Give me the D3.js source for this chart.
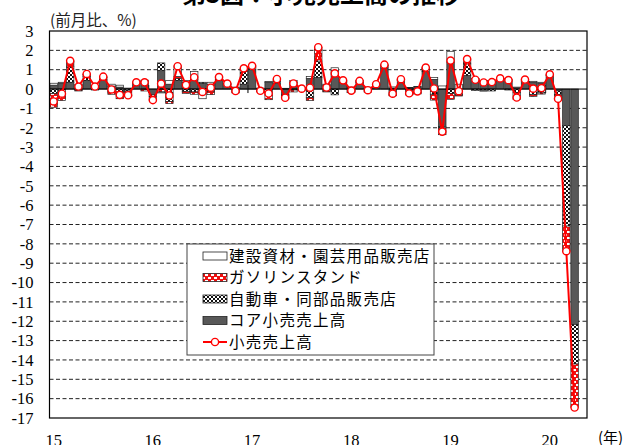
<!DOCTYPE html>
<html>
<head>
<meta charset="utf-8">
<script src="https://cdn.jsdelivr.net/npm/d3@7/dist/d3.min.js"></script>
<style>
  html, body { margin: 0; padding: 0; background: #fff; }
  svg { display: block; }
</style>
</head>
<body>
<svg id="chart" width="630" height="445"></svg>
<script>
// Monthly data, Jan 2015 – Apr 2020 (month-on-month %, and contributions)
const months = d3.range(64).map(i => `${2015 + Math.floor(i / 12)}-${String(i % 12 + 1).padStart(2, "0")}`);

const retailTotal = [
  -0.64,-0.24,1.46,0.13,0.78,0.13,0.64,-0.02,-0.30,-0.32,
  0.35,0.35,-0.57,0.28,-0.33,1.18,0.21,0.61,-0.15,0.07,
  0.62,0.28,-0.10,1.07,1.20,-0.09,-0.23,0.52,-0.45,0.29,
  0.02,0.07,2.16,0.08,0.81,0.45,-0.08,0.42,-0.06,0.25,
  1.26,-0.24,0.51,-0.22,-0.12,1.11,0.03,-2.20,1.47,-0.11,
  1.55,0.48,0.34,0.36,0.55,0.46,-0.44,0.49,0.02,0.05,
  0.76,-0.50,-8.38,-16.46
];

const coreRetail = [
  0.20,0.30,0.35,0.20,0.45,0.10,0.45,0.15,0.10,0.05,
  0.30,0.35,-0.30,0.95,0.25,0.45,0.35,0.50,0.30,0.25,
  0.45,0.25,0.10,0.25,1.00,0.05,0.35,0.30,-0.30,0.35,
  0.05,0.55,0.60,0.20,0.95,0.35,0.10,0.35,0.10,0.20,
  1.10,-0.30,0.45,-0.25,0.10,0.90,0.50,-1.95,1.40,-0.10,
  0.70,0.50,0.45,0.40,0.50,0.45,0.10,0.40,0.35,0.30,
  0.70,-0.10,-1.88,-12.16
];

const autoDealers = [
  -0.24,-0.14,0.80,-0.05,0.20,0.05,0.05,-0.15,-0.15,-0.10,
  0.00,0.06,-0.08,0.40,-0.65,0.10,-0.12,-0.15,0.05,-0.14,
  0.03,0.05,-0.10,0.70,0.10,-0.04,-0.30,0.15,-0.05,-0.05,
  -0.02,-0.45,0.85,-0.10,-0.30,0.05,-0.10,0.05,-0.10,0.05,
  0.10,0.05,0.03,0.05,-0.15,0.15,-0.27,-0.06,-0.23,-0.20,
  0.60,-0.07,-0.06,-0.10,0.04,-0.05,-0.19,0.08,-0.28,-0.20,
  0.00,-0.20,-5.20,-2.05
];

const gasStations = [
  -0.70,-0.45,0.25,-0.05,0.10,-0.05,0.10,-0.12,-0.35,-0.25,
  0.05,-0.10,-0.20,-0.15,-0.10,0.10,-0.10,-0.12,-0.25,-0.15,
  0.00,0.00,-0.10,0.12,0.10,-0.10,-0.25,0.00,-0.15,-0.10,
  -0.04,-0.14,0.60,-0.05,0.00,0.00,-0.08,0.05,-0.06,0.00,
  0.06,-0.05,0.03,-0.05,-0.10,0.03,-0.30,-0.35,-0.30,-0.06,
  0.25,0.05,0.00,0.05,0.00,0.00,-0.35,0.00,-0.10,-0.06,
  0.06,-0.20,-1.30,-2.25
];

const buildingGarden = [
  0.10,0.05,0.06,0.03,0.03,0.03,0.04,0.10,0.10,-0.02,
  0.01,0.05,0.00,-0.05,0.20,0.55,0.10,0.40,-0.25,0.10,
  0.15,0.00,0.00,0.00,0.00,0.00,0.04,0.07,0.04,0.10,
  0.02,0.10,0.11,0.05,0.15,0.05,0.00,0.00,0.00,0.05,
  0.00,0.06,0.00,0.03,0.03,0.05,0.10,0.16,0.55,0.25,
  0.00,0.00,-0.05,0.00,0.00,0.05,0.00,0.00,0.05,0.05,
  0.00,0.00,0.00,0.00
];

const yTicks = d3.range(3, -18, -1);
const yearLabels = ["15", "16", "17", "18", "19", "20"];
const legendLabels = ["建設資材・園芸用品販売店", "ガソリンスタンド", "自動車・同部品販売店", "コア小売売上高", "小売売上高"];

// ---- layout ----
const svg = d3.select("#chart");
const plot = { left: 49.5, right: 587, top: 31, bottom: 418 };
const nSlots = 65;   // one spare month slot at the right edge
const serif = "'Liberation Serif', 'Times New Roman', serif";
const jp = "'Noto Sans CJK JP', 'Noto Sans', sans-serif";

const x = d3.scaleLinear().domain([0, nSlots]).range([plot.left, plot.right]);
const y = d3.scaleLinear().domain([-17, 3]).range([plot.bottom, plot.top]);
const slotW = x(1) - x(0);
const barW = slotW * 0.9;

// ---- fill patterns ----
const defs = svg.append("defs");
const pDots = defs.append("pattern").attr("id", "pat-auto")
  .attr("patternUnits", "userSpaceOnUse").attr("width", 4).attr("height", 4);
pDots.append("rect").attr("width", 4).attr("height", 4).attr("fill", "#fff");
pDots.append("rect").attr("x", 0).attr("y", 0).attr("width", 2).attr("height", 2).attr("fill", "#111");
pDots.append("rect").attr("x", 2).attr("y", 2).attr("width", 2).attr("height", 2).attr("fill", "#111");

const pGas = defs.append("pattern").attr("id", "pat-gas")
  .attr("patternUnits", "userSpaceOnUse").attr("width", 6).attr("height", 6);
pGas.append("rect").attr("width", 6).attr("height", 6).attr("fill", "#ee1111");
pGas.append("rect").attr("x", 0).attr("y", 0).attr("width", 3).attr("height", 2).attr("fill", "#fff");
pGas.append("rect").attr("x", 3).attr("y", 3).attr("width", 3).attr("height", 2).attr("fill", "#fff");

const seriesStyle = {
  core:  { fill: "#585858" },
  auto:  { fill: "url(#pat-auto)" },
  gas:   { fill: "url(#pat-gas)" },
  build: { fill: "#ffffff" }
};

// ---- title & unit labels ----
svg.append("text").attr("x", 321).attr("y", 3).attr("text-anchor", "middle")
  .attr("font-family", jp).attr("font-size", 24).attr("font-weight", "bold")
  .text("第3図：小売売上高の推移");

svg.append("text").attr("x", 50).attr("y", 26)
  .attr("font-family", jp).attr("font-size", 15.5).attr("fill", "#222")
  .text("(前月比、%)");

// ---- gridlines ----
svg.append("g").selectAll("line")
  .data(yTicks.filter(v => v !== 0 && v !== 3 && v !== -17))
  .join("line")
  .attr("x1", plot.left).attr("x2", plot.right)
  .attr("y1", d => y(d)).attr("y2", d => y(d))
  .attr("stroke", "#222").attr("stroke-width", 1)
  .attr("stroke-dasharray", "4,2.5");

// ---- y axis labels ----
const yAxis = d3.axisLeft(y).tickValues(yTicks).tickSize(0).tickPadding(16)
  .tickFormat(d => d3.format("d")(d).replace("−", "-"));
svg.append("g").attr("transform", `translate(${plot.left},0)`).call(yAxis)
  .call(g => g.select(".domain").remove())
  .call(g => g.selectAll("text").attr("font-family", serif).attr("font-size", 16.5).attr("fill", "#000"));

// ---- year labels along the bottom ----
svg.append("g").selectAll("text").data(yearLabels).join("text")
  .attr("x", (d, i) => x(i * 12 + 0.5)).attr("y", 446)
  .attr("text-anchor", "middle")
  .attr("font-family", serif).attr("font-size", 16.5)
  .text(d => d);
svg.append("text").attr("x", 598).attr("y", 443)
  .attr("font-family", jp).attr("font-size", 15).text("(年)");

// ---- category axis on the zero line, with year ticks ----
svg.append("g").selectAll("line").data(d3.range(1, 6)).join("line")
  .attr("x1", d => x(d * 12)).attr("x2", d => x(d * 12))
  .attr("y1", y(0) - 4).attr("y2", y(0) + 4)
  .attr("stroke", "#000").attr("stroke-width", 1);

// ---- stacked bars ----
const rows = months.map((m, i) => ({
  i, core: coreRetail[i], auto: autoDealers[i], gas: gasStations[i], build: buildingGarden[i]
}));
const keys = ["core", "auto", "gas", "build"];
const stacked = d3.stack().keys(keys).offset(d3.stackOffsetDiverging)(rows);

const barLayer = svg.append("g");
stacked.forEach(layer => {
  barLayer.append("g").selectAll("rect")
    .data(layer.filter(d => d[1] - d[0] !== 0))
    .join("rect")
    .attr("x", d => x(d.data.i) + (slotW - barW) / 2)
    .attr("width", barW)
    .attr("y", d => y(Math.max(d[0], d[1])))
    .attr("height", d => Math.abs(y(d[0]) - y(d[1])))
    .attr("fill", seriesStyle[layer.key].fill)
    .attr("stroke", "#222").attr("stroke-width", 0.7);
});

// zero line
svg.append("line").attr("x1", plot.left).attr("x2", plot.right)
  .attr("y1", y(0)).attr("y2", y(0)).attr("stroke", "#000").attr("stroke-width", 1);

// ---- total retail sales line ----
const line = d3.line().x((d, i) => x(i + 0.5)).y(d => y(d));
svg.append("path").datum(retailTotal).attr("d", line)
  .attr("fill", "none").attr("stroke", "#ff0000").attr("stroke-width", 2);
svg.append("g").selectAll("circle").data(retailTotal).join("circle")
  .attr("cx", (d, i) => x(i + 0.5)).attr("cy", d => y(d)).attr("r", 3.6)
  .attr("fill", "#fff").attr("stroke", "#ff0000").attr("stroke-width", 1.4);

// ---- plot frame ----
svg.append("rect").attr("x", plot.left).attr("y", plot.top)
  .attr("width", plot.right - plot.left).attr("height", plot.bottom - plot.top)
  .attr("fill", "none").attr("stroke", "#000").attr("stroke-width", 1.2);

// ---- legend ----
const lg = svg.append("g").attr("transform", "translate(187,244)");
lg.append("rect").attr("width", 247).attr("height", 111)
  .attr("fill", "#fff").attr("stroke", "#444").attr("stroke-width", 1);
const legendFills = ["#ffffff", "url(#pat-gas)", "url(#pat-auto)", "#585858", null];
legendLabels.forEach((lab, k) => {
  const cy = 12 + k * 21.5;
  if (legendFills[k]) {
    lg.append("rect").attr("x", 16).attr("y", cy - 4).attr("width", 24).attr("height", 8)
      .attr("fill", legendFills[k]).attr("stroke", "#222").attr("stroke-width", 0.8);
  } else {
    lg.append("line").attr("x1", 16).attr("x2", 40).attr("y1", cy).attr("y2", cy)
      .attr("stroke", "#ff0000").attr("stroke-width", 2);
    lg.append("circle").attr("cx", 28).attr("cy", cy).attr("r", 3.6)
      .attr("fill", "#fff").attr("stroke", "#ff0000").attr("stroke-width", 1.4);
  }
  lg.append("text").attr("x", 42).attr("y", cy + 5.5)
    .attr("font-family", jp).attr("font-size", 15.5).attr("letter-spacing", 1.3)
    .text(lab);
});
</script>
</body>
</html>
